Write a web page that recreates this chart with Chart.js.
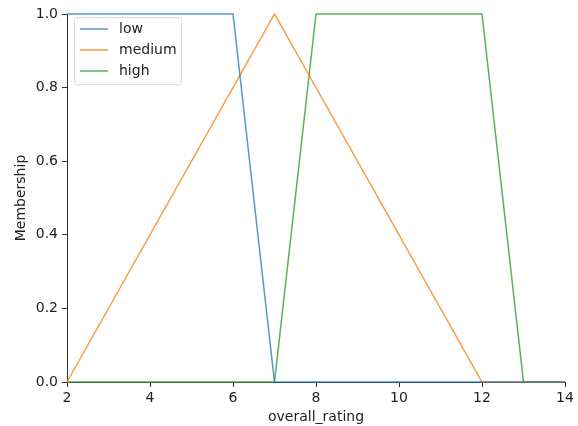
<!DOCTYPE html>
<html><head><meta charset="utf-8">
<script src="https://cdn.jsdelivr.net/npm/chart.js@4/dist/chart.umd.min.js"></script>
<style>html,body{margin:0;padding:0;background:#fff}#wrap{width:578px;height:426px}</style>
</head><body><div id="wrap"><canvas id="c" width="578" height="426"></canvas></div>
<script>
const seriesNames = ["low", "medium", "high"];
const lowX = [2, 6, 7, 14];
const lowY = [1, 1, 0, 0];
const mediumX = [2, 7, 12, 14];
const mediumY = [0, 1, 0, 0];
const highX = [2, 7, 8, 12, 13, 14];
const highY = [0, 0, 1, 1, 0, 0];
const xTicks = [2, 4, 6, 8, 10, 12, 14];
const yTicks = [0, 0.2, 0.4, 0.6, 0.8, 1.0];
const xLabel = "overall_rating";
const yLabel = "Membership";

const colors = ["rgba(31,119,180,0.75)", "rgba(255,127,14,0.8)", "rgba(44,160,44,0.8)"];
function pts(xs, ys){ return xs.map((x,i)=>({x:x, y:ys[i]})); }
const FONT = "DejaVu Sans";
const FS = 14;

const legendPlugin = {
  id: 'mplLegend',
  afterDraw(chart){
    const ctx = chart.ctx, a = chart.chartArea;
    const x0 = a.left + 7, y0 = a.top + 3, w = 107, h = 67;
    ctx.save();
    ctx.beginPath();
    if (ctx.roundRect) ctx.roundRect(x0+0.5, y0+0.5, w, h, 3); else ctx.rect(x0+0.5,y0+0.5,w,h);
    ctx.fillStyle = "rgba(255,255,255,0.8)";
    ctx.fill();
    ctx.strokeStyle = "#d9d9d9";
    ctx.lineWidth = 1;
    ctx.stroke();
    ctx.font = FS + "px '" + FONT + "'";
    ctx.textBaseline = "middle";
    chart.data.datasets.forEach((ds, i) => {
      const yy = y0 + 12 + i * 21;
      ctx.strokeStyle = ds.borderColor;
      ctx.lineWidth = 1.5;
      ctx.beginPath(); ctx.moveTo(x0 + 6, yy); ctx.lineTo(x0 + 34, yy); ctx.stroke();
      ctx.fillStyle = "#222";
      ctx.fillText(ds.label, x0 + 45, yy);
    });
    ctx.restore();
  }
};

new Chart(document.getElementById('c'), {
  type: 'line',
  data: {
    datasets: [
      {label: seriesNames[0], data: pts(lowX, lowY), borderColor: colors[0]},
      {label: seriesNames[1], data: pts(mediumX, mediumY), borderColor: colors[1]},
      {label: seriesNames[2], data: pts(highX, highY), borderColor: colors[2]}
    ].map(d => Object.assign(d, {borderWidth: 1.5, pointRadius: 0, tension: 0, fill: false, clip: false}))
  },
  options: {
    responsive: false, animation: false, devicePixelRatio: 1,
    layout: {padding: {top: 14, right: 13, left: 13, bottom: 0}},
    plugins: {legend: {display: false}, tooltip: {enabled: false}},
    scales: {
      x: {
        type: 'linear', min: 2, max: 14,
        afterBuildTicks(s){ s.ticks = xTicks.map(v => ({value: v})); },
        afterFit(s){ s.height = 44; },
        ticks: {font: {family: FONT, size: FS}, color: "#222", padding: 3, maxRotation: 0,
                callback: v => String(v)},
        grid: {display: true, drawOnChartArea: false, drawTicks: true, tickLength: 5, tickColor: "#333", tickWidth: 1},
        border: {display: true, color: "#333", width: 1},
        title: {display: true, text: xLabel, font: {family: FONT, size: FS}, color: "#222", padding: {top: 4, bottom: 0}}
      },
      y: {
        type: 'linear', min: 0, max: 1,
        afterBuildTicks(s){ s.ticks = yTicks.map(v => ({value: v})); },
        afterFit(s){ s.width = 54; },
        ticks: {font: {family: FONT, size: FS}, color: "#222", padding: 4, callback: v => v.toFixed(1)},
        grid: {display: true, drawOnChartArea: false, drawTicks: true, tickLength: 5, tickColor: "#333", tickWidth: 1},
        border: {display: true, color: "#333", width: 1},
        title: {display: true, text: yLabel, font: {family: FONT, size: FS}, color: "#222", padding: {top: 0, bottom: 4}}
      }
    }
  },
  plugins: [legendPlugin]
});
</script>
</body></html>
